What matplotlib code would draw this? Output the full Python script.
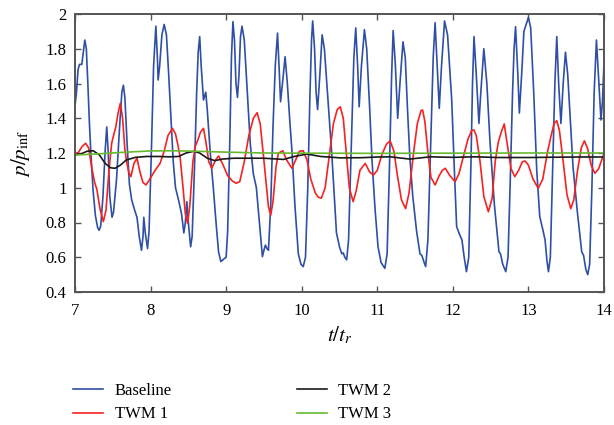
import numpy as np
import matplotlib
matplotlib.use("Agg")
import matplotlib.pyplot as plt

# Baseline (blue)
base_t = [7.00, 7.02, 7.04, 7.06, 7.09, 7.11, 7.13, 7.15, 7.17, 7.19, 7.21, 7.24, 7.27, 7.30, 7.32, 7.34,
          7.37, 7.40, 7.42, 7.44, 7.46, 7.49, 7.51, 7.55, 7.59, 7.62, 7.64, 7.66, 7.69, 7.72, 7.75, 7.79,
          7.82, 7.85, 7.88, 7.90, 7.91, 7.93, 7.96, 7.98, 8.01, 8.04, 8.07, 8.09, 8.10, 8.12, 8.15, 8.18,
          8.21, 8.24, 8.27, 8.30, 8.33, 8.37, 8.41, 8.44, 8.46, 8.48, 8.50, 8.53, 8.55, 8.58, 8.61, 8.63,
          8.65, 8.67, 8.70, 8.73, 8.75, 8.79, 8.83, 8.87, 8.90, 8.93, 8.97, 9.00, 9.02, 9.05, 9.07, 9.09,
          9.11, 9.13, 9.15, 9.17, 9.19, 9.21, 9.24, 9.28, 9.32, 9.36, 9.40, 9.44, 9.48, 9.50, 9.52, 9.54,
          9.56, 9.59, 9.62, 9.65, 9.68, 9.70, 9.72, 9.75, 9.78, 9.81, 9.84, 9.87, 9.91, 9.955, 9.99, 10.02,
          10.05, 10.08, 10.11, 10.13, 10.145, 10.17, 10.19, 10.21, 10.24, 10.27, 10.30, 10.34, 10.40, 10.46,
          10.50, 10.53, 10.55, 10.57, 10.595, 10.62, 10.66, 10.69, 10.715, 10.74, 10.76, 10.79, 10.83, 10.86,
          10.90, 10.93, 10.97, 11.01, 11.05, 11.10, 11.13, 11.16, 11.19, 11.21, 11.24, 11.27, 11.30, 11.34,
          11.37, 11.40, 11.43, 11.47, 11.52, 11.565, 11.59, 11.62, 11.64, 11.67, 11.71, 11.74, 11.765, 11.79,
          11.82, 11.85, 11.89, 11.93, 11.985, 12.02, 12.05, 12.09, 12.12, 12.15, 12.18, 12.21, 12.24, 12.26,
          12.28, 12.31, 12.345, 12.37, 12.41, 12.45, 12.49, 12.55, 12.61, 12.63, 12.66, 12.70, 12.73, 12.76,
          12.79, 12.81, 12.83, 12.86, 12.88, 12.91, 12.94, 12.97, 13.00, 13.03, 13.07, 13.11, 13.15, 13.19,
          13.22, 13.245, 13.265, 13.29, 13.32, 13.35, 13.375, 13.40, 13.43, 13.46, 13.49, 13.52, 13.56, 13.59,
          13.65, 13.705, 13.73, 13.76, 13.785, 13.81, 13.84, 13.87, 13.90, 13.92, 13.96, 13.98, 14.00]
base_p = [1.47, 1.55, 1.68, 1.71, 1.71, 1.78, 1.85, 1.80, 1.60, 1.38, 1.20, 0.98, 0.84, 0.77, 0.755, 0.78,
          0.95, 1.22, 1.35, 1.20, 0.95, 0.83, 0.86, 1.05, 1.35, 1.55, 1.59, 1.52, 1.25, 1.02, 0.93, 0.87,
          0.83, 0.72, 0.64, 0.72, 0.83, 0.74, 0.65, 0.75, 1.20, 1.70, 1.93, 1.75, 1.62, 1.70, 1.88, 1.94,
          1.88, 1.65, 1.40, 1.15, 1.00, 0.93, 0.85, 0.74, 0.80, 0.92, 0.80, 0.66, 0.72, 1.10, 1.55, 1.78,
          1.87, 1.70, 1.505, 1.55, 1.45, 1.20, 1.00, 0.78, 0.63, 0.575, 0.59, 0.60, 0.75, 1.30, 1.75, 1.956,
          1.85, 1.60, 1.52, 1.65, 1.87, 1.93, 1.85, 1.55, 1.25, 1.08, 1.00, 0.80, 0.603, 0.64, 0.67, 0.65,
          0.64, 0.90, 1.35, 1.70, 1.89, 1.70, 1.495, 1.62, 1.754, 1.60, 1.40, 1.217, 0.90, 0.62, 0.56, 0.546,
          0.60, 1.00, 1.55, 1.85, 1.96, 1.80, 1.55, 1.45, 1.65, 1.88, 1.80, 1.55, 1.18, 0.74,
          0.66, 0.62, 0.625, 0.60, 0.585, 0.70, 1.30, 1.75, 1.92, 1.70, 1.466, 1.70, 1.91, 1.80,
          1.45, 1.16, 0.88, 0.66, 0.57, 0.536, 0.62, 1.10, 1.65, 1.905, 1.70, 1.40, 1.60, 1.84,
          1.75, 1.45, 1.18, 0.95, 0.75, 0.62, 0.61, 0.57, 0.546, 0.70, 1.30, 1.75, 1.95, 1.72,
          1.457, 1.70, 1.96, 1.88, 1.505, 1.10, 0.776, 0.73, 0.70, 0.60, 0.517, 0.60, 1.15, 1.60,
          1.87, 1.65, 1.37, 1.55, 1.80, 1.60, 1.275, 0.90, 0.632, 0.62, 0.56, 0.517, 0.60, 1.05,
          1.55, 1.80, 1.927, 1.65, 1.43, 1.65, 1.90, 1.94, 1.98, 1.92, 1.55, 1.10, 0.833, 0.76,
          0.70, 0.58, 0.517, 0.60, 1.10, 1.60, 1.87, 1.60, 1.37, 1.60, 1.78, 1.65, 1.35, 1.12,
          0.85, 0.632, 0.61, 0.53, 0.50, 0.56, 1.00, 1.55, 1.85, 1.70, 1.39, 1.50, 1.72]

# TWM 1 (red)
twm1_t = [7.00, 7.04, 7.09, 7.14, 7.18, 7.22, 7.26, 7.29, 7.33, 7.375, 7.41, 7.45, 7.485, 7.51, 7.54, 7.57,
          7.60, 7.63, 7.66, 7.68, 7.71, 7.74, 7.78, 7.82, 7.86, 7.90, 7.94, 7.99, 8.06, 8.125, 8.18, 8.23,
          8.29, 8.33, 8.36, 8.39, 8.43, 8.46, 8.49, 8.52, 8.56, 8.59, 8.63, 8.66, 8.70, 8.73, 8.77, 8.81,
          8.86, 8.90, 8.95, 9.02, 9.08, 9.13, 9.18, 9.24, 9.30, 9.36, 9.41, 9.45, 9.49, 9.53, 9.56, 9.59,
          9.62, 9.66, 9.69, 9.75, 9.80, 9.87, 9.92, 9.97, 10.02, 10.07, 10.12, 10.18, 10.22, 10.26, 10.31,
          10.36, 10.42, 10.47, 10.51, 10.55, 10.59, 10.63, 10.68, 10.72, 10.77, 10.84, 10.90, 10.95, 11.00,
          11.06, 11.12, 11.17, 11.22, 11.27, 11.32, 11.375, 11.42, 11.48, 11.53, 11.58, 11.60, 11.63, 11.67,
          11.71, 11.765, 11.82, 11.86, 11.90, 11.96, 12.03, 12.08, 12.14, 12.20, 12.25, 12.28, 12.31, 12.36,
          12.41, 12.47, 12.52, 12.56, 12.60, 12.64, 12.68, 12.72, 12.77, 12.82, 12.87, 12.92, 12.955, 13.00,
          13.06, 13.13, 13.19, 13.25, 13.30, 13.34, 13.375, 13.41, 13.46, 13.51, 13.56, 13.60, 13.65, 13.70,
          13.74, 13.78, 13.83, 13.88, 13.93, 14.00]
twm1_p = [1.20, 1.20, 1.235, 1.256, 1.23, 1.12, 1.03, 0.99, 0.88, 0.805, 0.87, 1.10, 1.256, 1.30, 1.35, 1.43,
          1.486, 1.40, 1.22, 1.16, 1.09, 1.064, 1.14, 1.17, 1.09, 1.03, 1.016, 1.05, 1.10, 1.14, 1.21, 1.30,
          1.342, 1.31, 1.25, 1.18, 1.00, 0.85, 0.795, 0.90, 1.15, 1.236, 1.28, 1.32, 1.342, 1.27, 1.15, 1.112,
          1.16, 1.183, 1.14, 1.07, 1.04, 1.026, 1.035, 1.15, 1.30, 1.40, 1.432, 1.37, 1.20, 1.02, 0.89, 0.843,
          0.92, 1.12, 1.198, 1.213, 1.16, 1.112, 1.16, 1.21, 1.213, 1.16, 1.05, 0.97, 0.945, 0.94, 1.00,
          1.17, 1.37, 1.45, 1.466, 1.40, 1.20, 1.00, 0.92, 0.98, 1.10, 1.14, 1.09, 1.073, 1.10,
          1.19, 1.25, 1.27, 1.21, 1.06, 0.93, 0.88, 0.97, 1.20, 1.37, 1.445, 1.447, 1.38, 1.20,
          1.06, 1.016, 1.07, 1.10, 1.112, 1.07, 1.035, 1.08, 1.18, 1.28, 1.33, 1.332, 1.30, 1.15,
          0.95, 0.862, 0.94, 1.15, 1.26, 1.32, 1.367, 1.25, 1.11, 1.064, 1.10, 1.15, 1.154, 1.13,
          1.05, 0.997, 1.05, 1.20, 1.30, 1.37, 1.386, 1.33, 1.15, 0.96, 0.88, 0.93, 1.10, 1.23,
          1.27, 1.23, 1.13, 1.083, 1.11, 1.198]

# TWM 2 (black)
twm2_t = [7.00, 7.08, 7.16, 7.24, 7.32, 7.40, 7.47, 7.53, 7.60, 7.68, 7.80, 7.95, 8.10, 8.25, 8.37, 8.47,
          8.57, 8.65, 8.75, 8.85, 8.95, 9.10, 9.30, 9.50, 9.76, 9.90, 10.07, 10.25, 10.51, 10.80, 11.00,
          11.17, 11.43, 11.70, 12.00, 12.30, 12.60, 13.00, 13.40, 13.70, 14.00]
twm2_p = [1.19, 1.195, 1.21, 1.213, 1.19, 1.14, 1.115, 1.112, 1.13, 1.16, 1.175, 1.18, 1.18, 1.178, 1.18, 1.20,
          1.21, 1.20, 1.17, 1.156, 1.165, 1.17, 1.17, 1.17, 1.163, 1.18, 1.194, 1.18, 1.172, 1.173, 1.177,
          1.178, 1.165, 1.178, 1.175, 1.178, 1.174, 1.174, 1.176, 1.177, 1.177]

# TWM 3 (green)
twm3_t = [7.00, 7.30, 7.60, 8.00, 8.30, 8.60, 9.00, 9.50, 10.00, 11.00, 12.00, 13.00, 14.00]
twm3_p = [1.188, 1.195, 1.203, 1.212, 1.213, 1.21, 1.205, 1.20, 1.199, 1.198, 1.199, 1.20, 1.20]

x_ticks = [7, 8, 9, 10, 11, 12, 13, 14]
y_ticks = [0.4, 0.6, 0.8, 1.0, 1.2, 1.4, 1.6, 1.8, 2.0]
y_labels = ["0.4", "0.6", "0.8", "1", "1.2", "1.4", "1.6", "1.8", "2"]

plt.rcParams.update({
    "font.family": "Liberation Serif",
    "mathtext.fontset": "stix",
    "font.size": 12,
})

fig = plt.figure(figsize=(6.14, 4.25), dpi=100)
ax = fig.add_axes([75 / 614, 1 - 292 / 425, 529 / 614, 278 / 425])

ax.plot(base_t, base_p, color="#2f4fa6", lw=1.2, label="Baseline")
ax.plot(twm1_t, twm1_p, color="#f52222", lw=1.2, label="TWM 1")
ax.plot(twm2_t, twm2_p, color="#1a1a1a", lw=1.2, label="TWM 2")
ax.plot(twm3_t, twm3_p, color="#66b82e", lw=1.2, label="TWM 3")

ax.set_xlim(7, 14)
ax.set_ylim(0.4, 2)
ax.set_xticks(x_ticks)
ax.set_yticks(y_ticks)
ax.set_yticklabels(y_labels)
ax.tick_params(direction="in", top=True, right=True, length=4, width=1.0,
               color="#555555", labelsize=12)
ax.tick_params(axis="x", pad=8)
ax.tick_params(axis="y", pad=6)
for s in ax.spines.values():
    s.set_color("#555555")
    s.set_linewidth(1.4)

ax.set_xlabel(r"$t/t_r$", fontsize=15, labelpad=4)
ax.set_ylabel(r"$p/p_{\rm inf}$", fontsize=15, labelpad=10)

fig.legend(loc="upper left", bbox_to_anchor=(58 / 614, 1 - 368 / 425), ncol=2,
           frameon=False, fontsize=12, handlelength=1.8, handletextpad=0.7,
           columnspacing=7.5, labelspacing=0.45)

fig.savefig("out.png", dpi=100)
